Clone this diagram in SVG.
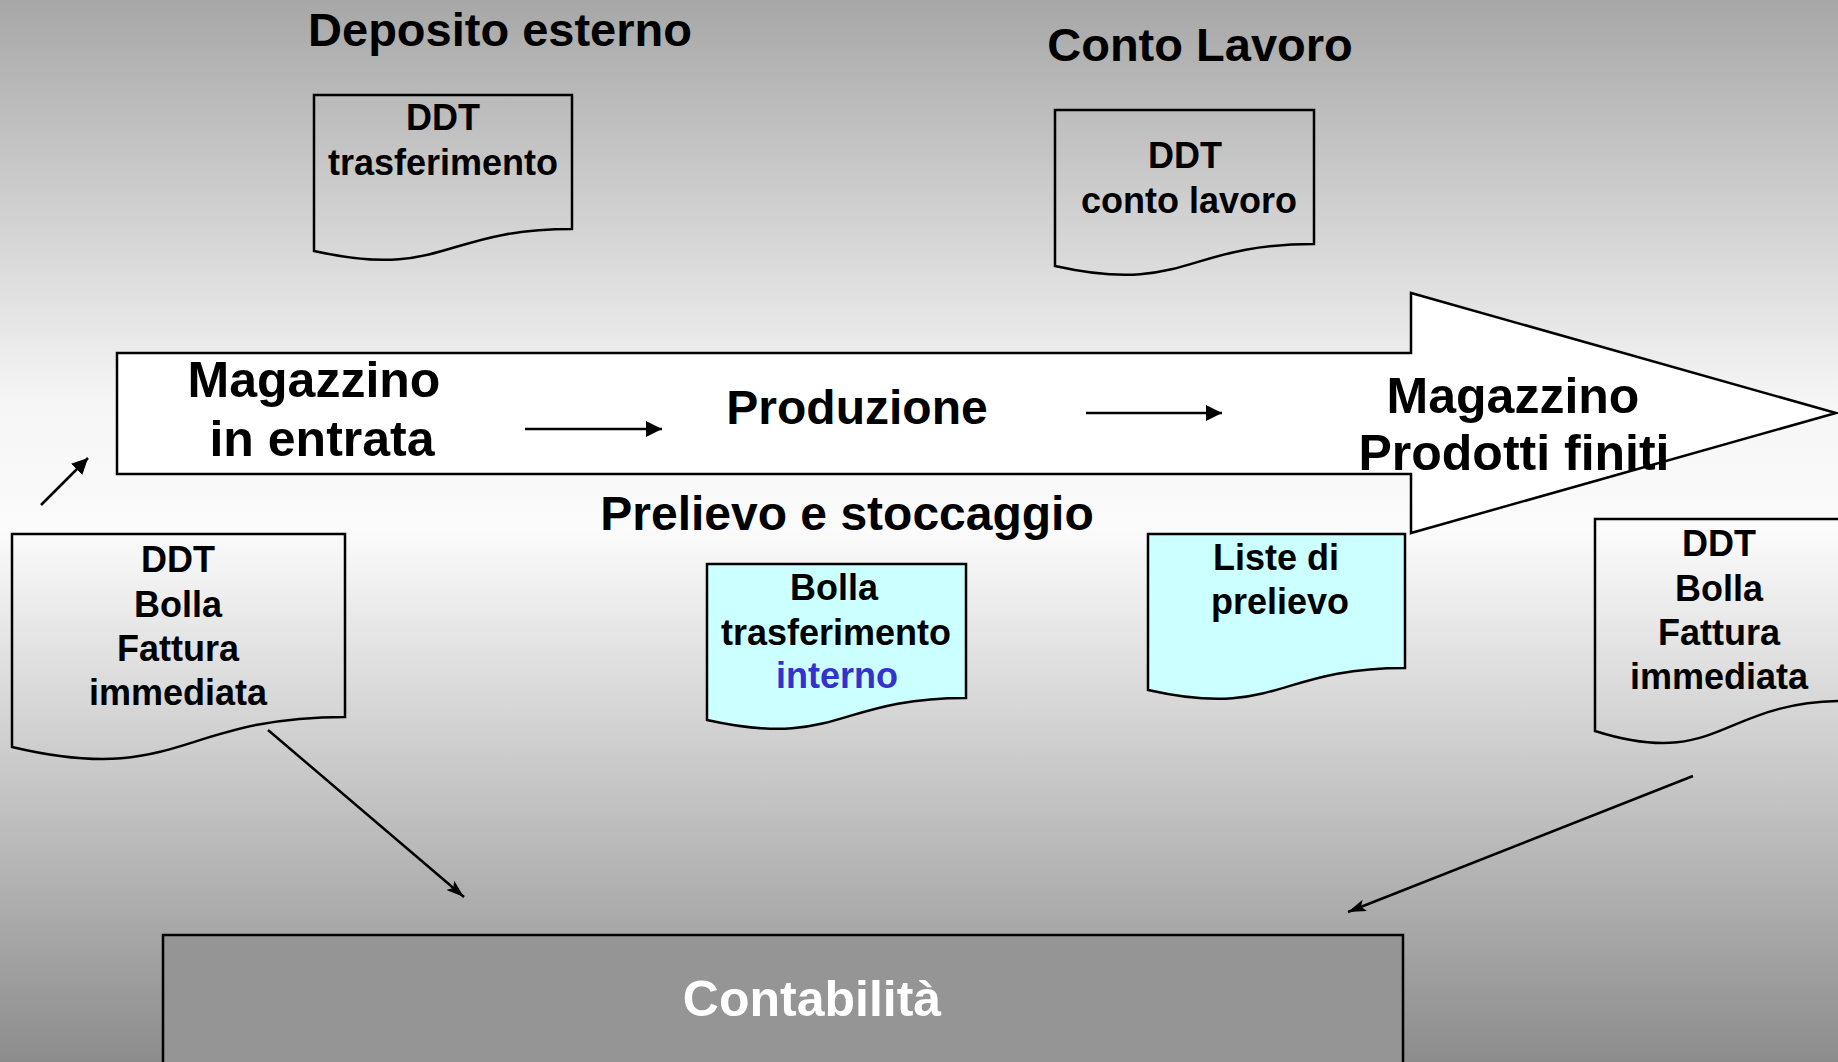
<svg xmlns="http://www.w3.org/2000/svg" width="1838" height="1062" viewBox="0 0 1838 1062">
<defs>
<linearGradient id="bg" x1="0" y1="0" x2="0" y2="1">
<stop offset="0" stop-color="#a7a7a7"/>
<stop offset="0.38" stop-color="#f6f6f6"/>
<stop offset="0.5" stop-color="#fbfbfb"/>
<stop offset="1" stop-color="#8c8c8c"/>
</linearGradient>
<marker id="ah" viewBox="0 0 16 16" refX="16" refY="8" markerWidth="16" markerHeight="16" markerUnits="userSpaceOnUse" orient="auto">
<path d="M0,0 L16,8 L0,16 Z" fill="#000"/>
</marker>
<marker id="ah2" viewBox="0 0 18 12" refX="18" refY="6" markerWidth="18" markerHeight="12" markerUnits="userSpaceOnUse" orient="auto">
<path d="M0,0 L18,6 L0,12 L4,6 Z" fill="#000"/>
</marker>
</defs>
<style>
text{font-family:"Liberation Sans",Arial,sans-serif;font-weight:bold;text-anchor:middle;fill:#000}
.t47{font-size:47px}
.t50{font-size:50px}
.t48{font-size:48px}
.t36{font-size:36px}
.doc{fill:none;stroke:#000;stroke-width:2.5}
.cyan{fill:#ccffff}
.conn{stroke:#000;stroke-width:2.5;fill:none}
</style>
<rect x="0" y="0" width="1838" height="1062" fill="url(#bg)"/>

<g id="title-deposito"><text class="t47" x="500" y="46">Deposito esterno</text></g>
<g id="title-conto"><text class="t47" x="1200" y="61">Conto Lavoro</text></g>

<g id="doc-ddt-trasferimento">
<path class="doc" d="M314,95 H572 V228.9 C443,228.9 443,279.9 314,251 Z"/>
<text class="t36" x="443" y="130">DDT</text>
<text class="t36" x="443" y="175">trasferimento</text>
</g>

<g id="doc-ddt-conto-lavoro">
<path class="doc" d="M1055,110 H1314 V243.9 C1184.5,243.9 1184.5,295 1055,266 Z"/>
<text class="t36" x="1185" y="168">DDT</text>
<text class="t36" x="1189" y="213">conto lavoro</text>
</g>

<g id="flow-arrow">
<path d="M117,353 H1411 V293 L1836,413 L1411,533 V474 H117 Z" fill="#ffffff" stroke="#000" stroke-width="2.5"/>
</g>

<g id="node-magazzino-entrata">
<text class="t50" x="314" y="397">Magazzino</text>
<text class="t50" x="322" y="456">in entrata</text>
</g>
<g id="node-produzione"><text class="t48" x="857" y="424">Produzione</text></g>
<g id="node-magazzino-pf">
<text class="t50" x="1513" y="413">Magazzino</text>
<text class="t50" x="1514" y="470">Prodotti finiti</text>
</g>
<g id="label-prelievo"><text class="t48" x="847" y="530">Prelievo e stoccaggio</text></g>

<g id="doc-left">
<path class="doc" d="M12,534 H345 V716.9 C178.5,716.9 178.5,786.5 12,747 Z"/>
<text class="t36" x="178" y="572">DDT</text>
<text class="t36" x="178" y="617">Bolla</text>
<text class="t36" x="178" y="661">Fattura</text>
<text class="t36" x="178" y="705">immediata</text>
</g>

<g id="doc-bolla-interno">
<path class="doc cyan" d="M707,564 H966 V697.9 C836.5,697.9 836.5,749 707,720 Z"/>
<text class="t36" x="834" y="600">Bolla</text>
<text class="t36" x="836" y="645">trasferimento</text>
<text class="t36" x="837" y="688" style="fill:#3333cc">interno</text>
</g>

<g id="doc-liste">
<path class="doc cyan" d="M1148,534 H1405 V667.9 C1276.5,667.9 1276.5,719 1148,690 Z"/>
<text class="t36" x="1276" y="570">Liste di</text>
<text class="t36" x="1280" y="614">prelievo</text>
</g>

<g id="doc-right">
<path class="doc" d="M1595,519 H1845 V701 C1720,701 1720,770.4 1595,731 Z"/>
<text class="t36" x="1719" y="556">DDT</text>
<text class="t36" x="1719" y="601">Bolla</text>
<text class="t36" x="1719" y="645">Fattura</text>
<text class="t36" x="1719" y="689">immediata</text>
</g>

<g id="node-contabilita">
<rect x="163" y="935" width="1240" height="140" fill="#959595" stroke="#000" stroke-width="2.5"/>
<text class="t50" x="812" y="1016" style="fill:#ffffff">Contabilità</text>
</g>

<g id="connectors">
<line class="conn" x1="41" y1="505" x2="88" y2="458" marker-end="url(#ah)"/>
<line class="conn" x1="525" y1="429" x2="662" y2="429" marker-end="url(#ah)"/>
<line class="conn" x1="1086" y1="413" x2="1222" y2="413" marker-end="url(#ah)"/>
<line class="conn" x1="268" y1="730" x2="464" y2="897" marker-end="url(#ah2)"/>
<line class="conn" x1="1693" y1="776" x2="1348" y2="912" marker-end="url(#ah2)"/>
</g>
</svg>
